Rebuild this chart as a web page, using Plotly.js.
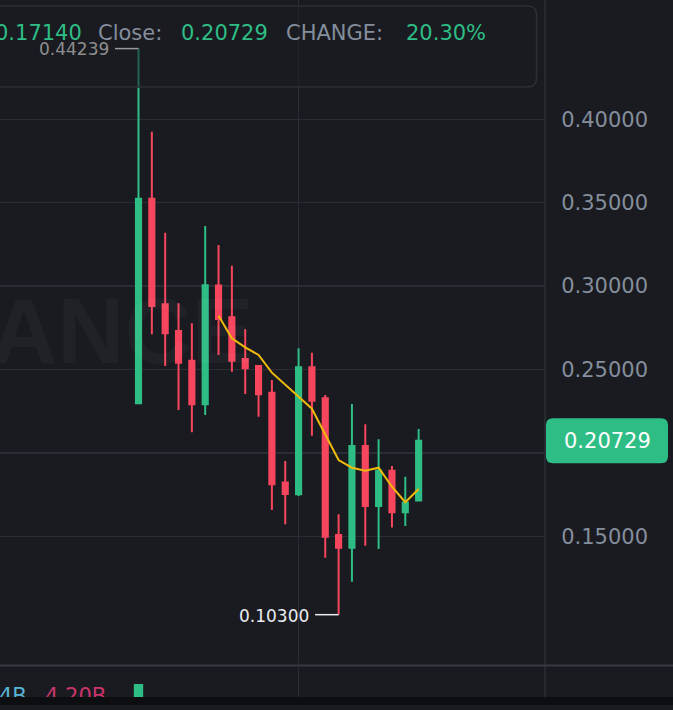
<!DOCTYPE html>
<html>
<head>
<meta charset="utf-8">
<script src="https://cdn.plot.ly/plotly-3.0.1.min.js"></script>
<style>
  html, body { margin: 0; padding: 0; background: #1a1b20; }
  #chart { width: 673px; height: 710px; }
</style>
</head>
<body>
<div id="chart"></div>
<script>
// ---- data ----
const days   = [0,1,2,3,4,5,6,7,8,9,10,11,12,13,14,15,16,17,18,19,20,21];
const opens  = [0.2297,0.3524,0.2891,0.2731,0.2553,0.2291,0.3003,0.2813,0.2563,0.2521,0.2361,0.1822,0.1752,0.2513,0.2327,0.1508,0.1432,0.2041,0.1682,0.1893,0.1644,0.1714];
const highs  = [0.44239,0.3926,0.3320,0.2897,0.2777,0.3360,0.3246,0.3122,0.2741,0.2527,0.2437,0.1951,0.2627,0.2601,0.2347,0.1632,0.2293,0.2171,0.2082,0.1921,0.1857,0.2143];
const lows   = [0.2297,0.2711,0.2521,0.2257,0.2124,0.2227,0.2587,0.2487,0.2353,0.2217,0.1658,0.1572,0.1742,0.2103,0.1372,0.1030,0.1228,0.1444,0.1424,0.1552,0.1562,0.1714];
const closes = [0.3524,0.2881,0.2717,0.2541,0.2291,0.3005,0.2803,0.2553,0.2507,0.2351,0.1812,0.1754,0.2513,0.2313,0.1498,0.1432,0.2041,0.1682,0.1893,0.1644,0.1702,0.20729];
const maLine = [null,null,null,null,null,null,0.2822,0.2687,0.2633,0.2587,0.2481,0.2408,0.2335,0.2265,0.2110,0.1957,0.1911,0.1893,0.1911,0.1797,0.1704,0.1784];
const volumes = [1.0,null,null,null,null,null,null,null,null,null,null,null,null,null,null,null,null,null,null,null,null,null];
const priceTicks = [0.15,0.20,0.25,0.30,0.35,0.40];
const priceTickText = ['0.15000','','0.25000','0.30000','0.35000','0.40000'];
const infoTexts = ['0.17140','Close:','0.20729','CHANGE:','20.30%'];
const lastPrice = 0.20729;
const highLabel = '0.44239';
const lowLabel = '0.10300';
const volTexts = ['4B','4.20B'];
const watermark = 'BINANCE';

// ---- geometry / styling ----
const W = 673, H = 710, PLOT_R = 545;
const STEP = 13.34, X0PX = 138.5;               // px spacing of candles, px of first candle
const xr = [-X0PX/STEP, (PLOT_R - X0PX)/STEP];
const px2x = p => xr[0] + p/PLOT_R*(xr[1]-xr[0]);
const pxX = p => p / W;
const pxY = p => 1 - p / H;
const yr = [0.07404, 0.47152];
const GREEN = '#2ebd85', RED = '#f6465d', BG = '#1a1b20', GRID = '#2a2d35', GRAY = '#848e9c';
const FONT = 'DejaVu Sans';

function roundRect(x0, y0, x1, y1, rx, ry) {
  return `M${x0+rx},${y0} L${x1-rx},${y0} Q${x1},${y0} ${x1},${y0+ry} L${x1},${y1-ry} Q${x1},${y1} ${x1-rx},${y1} L${x0+rx},${y1} Q${x0},${y1} ${x0},${y1-ry} L${x0},${y0+ry} Q${x0},${y0} ${x0+rx},${y0} Z`;
}

const iHigh = highs.indexOf(Math.max(...highs));
const iLow = lows.indexOf(Math.min(...lows));

const traces = [
  {
    type: 'candlestick', x: days, open: opens, high: highs, low: lows, close: closes,
    xaxis: 'x', yaxis: 'y',
    increasing: {line: {color: GREEN, width: 2}, fillcolor: GREEN},
    decreasing: {line: {color: RED, width: 2}, fillcolor: RED},
    whiskerwidth: 0, showlegend: false, hoverinfo: 'skip'
  },
  {
    type: 'scatter', mode: 'lines', x: days, y: maLine, xaxis: 'x', yaxis: 'y',
    line: {color: '#f0b90b', width: 2}, connectgaps: false, showlegend: false, hoverinfo: 'skip'
  },
  {
    type: 'bar', x: days, y: volumes, xaxis: 'x2', yaxis: 'y2', width: 0.7,
    marker: {color: GREEN}, showlegend: false, hoverinfo: 'skip'
  },
  {
    type: 'scatter', mode: 'text', xaxis: 'x2', yaxis: 'y2',
    x: [px2x(-1), px2x(45)], y: [-0.05, -0.05],
    text: volTexts, textposition: 'middle right', cliponaxis: true,
    textfont: {family: FONT, size: 21, color: ['#58b4d4', '#c9356a']},
    showlegend: false, hoverinfo: 'skip'
  }
];

const pTop = lastPrice + 22.5/1668, pBot = lastPrice - 22.5/1668;

const shapes = [
  // vertical axis separator
  {type: 'line', xref: 'paper', yref: 'paper', x0: pxX(545), x1: pxX(545), y0: pxY(0), y1: pxY(697),
   line: {color: '#2b2f36', width: 1.5}, layer: 'below'},
  // pane separator
  {type: 'line', xref: 'paper', yref: 'paper', x0: 0, x1: 1, y0: pxY(665.5), y1: pxY(665.5),
   line: {color: '#363a45', width: 2}, layer: 'above'},
  // info box
  {type: 'path', xref: 'paper', yref: 'paper',
   path: roundRect(pxX(-12), pxY(87), pxX(536.5), pxY(6), 9/W, 9/H),
   line: {color: '#2b2f36', width: 1.5}, fillcolor: 'rgba(26,27,32,0.55)', layer: 'above'},
  // high marker line
  {type: 'line', xref: 'x', yref: 'y', x0: days[iHigh] - 23.5/STEP, x1: days[iHigh] - 0.05/STEP,
   y0: highs[iHigh], y1: highs[iHigh], line: {color: '#9a9a9a', width: 1.5}, layer: 'above'},
  // low marker line
  {type: 'line', xref: 'x', yref: 'y', x0: days[iLow] - 23.5/STEP, x1: days[iLow] - 0.05/STEP,
   y0: lows[iLow], y1: lows[iLow], line: {color: '#eaecef', width: 1.5}, layer: 'above'},
  // last price box
  {type: 'path', xref: 'paper', yref: 'y',
   path: roundRect(pxX(546), pBot, pxX(668), pTop, 7/W, 7/1668),
   line: {width: 0}, fillcolor: GREEN, layer: 'above'},
  // bottom dark strip
  {type: 'rect', xref: 'paper', yref: 'paper', x0: 0, x1: 1, y0: pxY(705), y1: pxY(697),
   line: {width: 0}, fillcolor: '#0c0e11', layer: 'above'}
];

function ann(text, x, y, color, size, xanchor, extra) {
  return Object.assign({text, x, y, xref: 'paper', yref: 'paper', xanchor, yanchor: 'middle',
    showarrow: false, font: {family: FONT, size, color}, borderpad: 0}, extra || {});
}

const infoColors = [GREEN, GRAY, GREEN, GRAY, GREEN];
const infoX = [83, 97, 180, 285, 405];
const infoAnchor = ['right', 'left', 'left', 'left', 'left'];
const annotations = [
  ann(watermark, pxX(255), pxY(331), 'rgba(255,255,255,0.03)', 93, 'right',
      {font: {family: 'Liberation Sans', size: 93, color: 'rgba(255,255,255,0.03)', weight: 'bold'}}),
];
infoTexts.forEach((t, i) => annotations.push(ann(t, pxX(infoX[i]), pxY(33), infoColors[i], 21, infoAnchor[i])));
annotations.push({text: highLabel, x: days[iHigh], y: highs[iHigh], xref: 'x', yref: 'y', xanchor: 'right',
  yanchor: 'middle', xshift: -29, showarrow: false, borderpad: 0, font: {family: FONT, size: 17, color: '#8e8e8e'}});
annotations.push({text: lowLabel, x: days[iLow], y: lows[iLow], xref: 'x', yref: 'y', xanchor: 'right',
  yanchor: 'middle', xshift: -29, yshift: -1, showarrow: false, borderpad: 0, font: {family: FONT, size: 17, color: '#eaecef'}});
annotations.push({text: lastPrice.toFixed(5), x: pxX(607), y: lastPrice, xref: 'paper', yref: 'y',
  xanchor: 'center', yanchor: 'middle', showarrow: false, borderpad: 0, font: {family: FONT, size: 21, color: '#ffffff'}});

const layout = {
  width: W, height: H,
  margin: {l: 0, r: 0, t: 0, b: 0},
  paper_bgcolor: BG, plot_bgcolor: BG,
  showlegend: false, dragmode: false,
  boxgap: 0.45,
  bargap: 0.3,
  xaxis: {domain: [0, PLOT_R/W], range: xr, showgrid: true, tickvals: [12], showticklabels: false,
          gridcolor: GRID, gridwidth: 1.5, zeroline: false, showline: false, ticks: '',
          rangeslider: {visible: false}, fixedrange: true},
  yaxis: {domain: [47/H, 1], range: yr, side: 'right', tickvals: priceTicks, ticktext: priceTickText,
          showgrid: true, gridcolor: GRID, gridwidth: 1.5, zeroline: false, showline: false,
          ticks: 'outside', ticklen: 11, tickcolor: 'rgba(0,0,0,0)',
          tickfont: {family: FONT, size: 21, color: GRAY}, fixedrange: true},
  xaxis2: {domain: [0, PLOT_R/W], range: xr, anchor: 'y2', matches: 'x', showgrid: true, tickvals: [12],
           showticklabels: false, gridcolor: GRID, gridwidth: 1.5, zeroline: false, showline: false, ticks: ''},
  yaxis2: {domain: [13/H, 43/H], range: [0, 2.31], showgrid: false, zeroline: false, showticklabels: false,
           showline: false, ticks: ''},
  shapes, annotations
};

Plotly.newPlot('chart', traces, layout, {staticPlot: true, displayModeBar: false});
</script>
</body>
</html>
